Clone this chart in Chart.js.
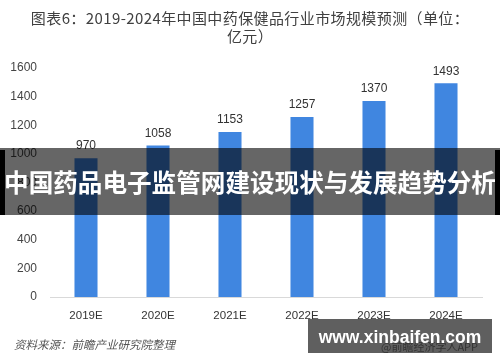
<!DOCTYPE html>
<html>
<head>
<meta charset="utf-8">
<script src="https://cdn.jsdelivr.net/npm/chart.js@4/dist/chart.umd.min.js"></script>
<style>
  body { margin: 0; background: #fff; }
  #wrap { position: relative; width: 500px; height: 362px; overflow: hidden; font-family: "Noto Sans CJK SC", "Noto Sans", sans-serif; }
  #c { position: absolute; left: 0; top: 0; }
  .title { position: absolute; left: 0; width: 500px; text-align: center; color: #404040; font-size: 15px; line-height: 18px; letter-spacing: 0.4px; white-space: nowrap; }
  .source { position: absolute; left: 14px; top: 336px; font-size: 11.5px; color: #555; font-style: italic; }
  .banner { position: absolute; left: 0; top: 148px; width: 500px; height: 67px; background: rgba(0,0,0,0.6); color: #fff; font-weight: bold; font-size: 24.6px; line-height: 67px; text-align: center; white-space: nowrap; }
  .edge { position: absolute; top: 150px; width: 5px; height: 65px; background: #000; }
  .site { position: absolute; left: 308px; top: 319px; width: 184px; height: 34px; background: #5f5f5f; overflow: visible; }
  .site .app { position: absolute; left: 73px; top: 19px; font-size: 11px; color: #333; white-space: nowrap; }
  .site .url { position: absolute; left: 0; width: 184px; top: 5px; text-align: center; color: #fff; font-weight: bold; font-size: 17.5px; line-height: 26px; font-family: "Liberation Sans", sans-serif; white-space: nowrap; }
</style>
</head>
<body>
<div id="wrap">
  <canvas id="c" width="500" height="362"></canvas>
  <div class="title" style="top:9px">图表6：2019-2024年中国中药保健品行业市场规模预测（单位：</div>
  <div class="title" style="top:27px">亿元）</div>
  <div class="source">资料来源：前瞻产业研究院整理</div>
  <div class="banner">中国药品电子监管网建设现状与发展趋势分析</div>
  <div class="edge" style="left:0"></div>
  <div class="edge" style="left:495px"></div>
  <div class="site"><span class="app">@前瞻经济学人APP</span><div class="url">www.xinbaifen.com</div></div>
</div>
<script>
// 数据
const years = ['2019E', '2020E', '2021E', '2022E', '2023E', '2024E'];
const marketSize = [970, 1058, 1153, 1257, 1370, 1493];
const yTicks = [0, 200, 400, 600, 800, 1000, 1200, 1400, 1600];

// 柱顶数值标签
const valueLabels = {
    id: 'valueLabels',
    afterDatasetsDraw(chart) {
        const ctx = chart.ctx;
        const meta = chart.getDatasetMeta(0);
        ctx.save();
        ctx.font = '12px "Liberation Sans", "Noto Sans", sans-serif';
        ctx.fillStyle = '#333';
        ctx.textAlign = 'center';
        ctx.textBaseline = 'bottom';
        meta.data.forEach((bar, i) => {
            ctx.fillText(marketSize[i], bar.x, bar.y - 6);
        });
        ctx.restore();
    }
};

const ctx = document.getElementById('c').getContext('2d');
const chart = new Chart(ctx, {
    type: 'bar',
    data: {
        labels: years,
        datasets: [{
            data: marketSize,
            backgroundColor: '#4086e0',
            barPercentage: 0.32,
            categoryPercentage: 1
        }]
    },
    options: {
        responsive: false,
        animation: false,
        layout: { padding: { top: 68, right: 18, left: 0, bottom: 0 } },
        plugins: { legend: { display: false }, tooltip: { enabled: false } },
        scales: {
            x: {
                grid: { display: false, drawTicks: false },
                border: { display: true, color: '#d9d9d9', width: 1 },
                ticks: { color: '#333', padding: 12, font: { size: 11.5, family: '"Liberation Sans", "Noto Sans", sans-serif' } },
                afterFit(scale) { scale.height = 65; }
            },
            y: {
                min: 0,
                max: 1600,
                grid: { display: false, drawTicks: false },
                border: { display: false },
                afterBuildTicks(scale) { scale.ticks = yTicks.map(v => ({ value: v })); },
                ticks: {
                    color: '#444',
                    padding: 13,
                    font: { size: 12, family: '"Liberation Sans", "Noto Sans", sans-serif' },
                    callback: v => String(v)
                },
                afterFit(scale) { scale.width = 50; }
            }
        }
    },
    plugins: [valueLabels]
});
</script>
</body>
</html>
